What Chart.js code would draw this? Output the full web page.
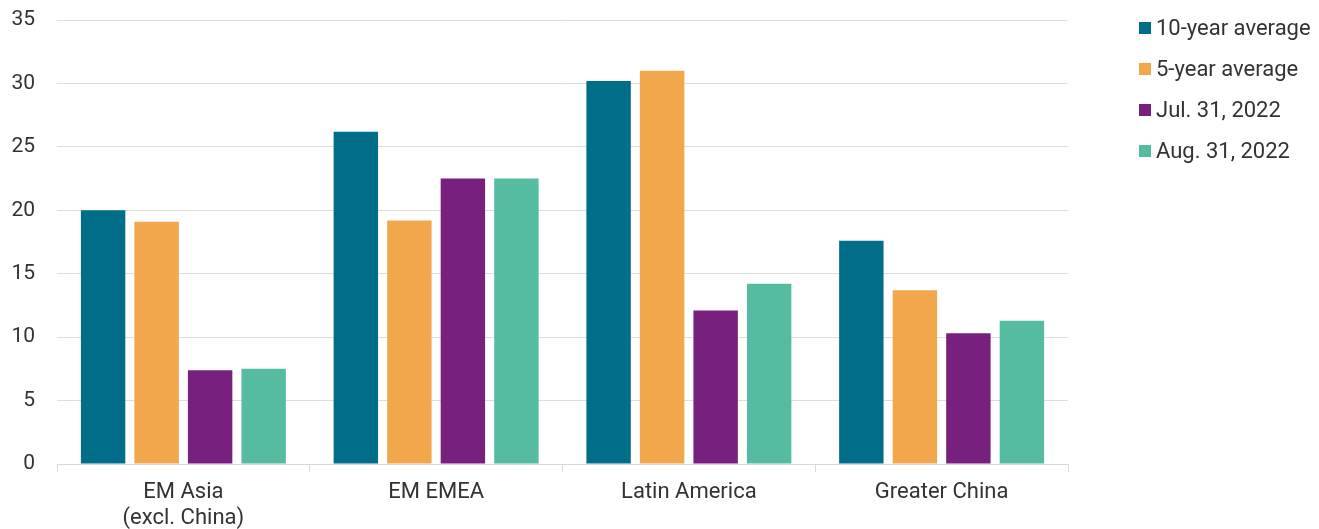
<!DOCTYPE html>
<html>
<head>
<meta charset="utf-8">
<script src="https://cdn.jsdelivr.net/npm/chart.js@4.4.1/dist/chart.umd.min.js"></script>
<style>
  html, body { margin: 0; padding: 0; background: #fff; }
  #wrap { position: relative; width: 1319px; height: 529px; }
  #legend { position: absolute; left: 1139px; top: 7px; font-family: Roboto, sans-serif; font-size: 22px; color: #333; }
  #legend div { height: 41px; display: flex; align-items: center; white-space: nowrap; }
  #legend span { display: inline-block; width: 12px; height: 12px; margin-right: 5px; }
</style>
</head>
<body>
<div id="wrap">
  <canvas id="myChart" width="1319" height="529"></canvas>
  <div id="legend"></div>
</div>
<script>
const categories = [['EM Asia', '(excl. China)'], 'EM EMEA', 'Latin America', 'Greater China'];
const seriesNames = ['10-year average', '5-year average', 'Jul. 31, 2022', 'Aug. 31, 2022'];
const tenYear = [20.0, 26.2, 30.2, 17.6];
const fiveYear = [19.1, 19.2, 31.0, 13.7];
const jul2022 = [7.4, 22.5, 12.1, 10.3];
const aug2022 = [7.5, 22.5, 14.2, 11.3];
const colors = ['#006D89', '#F2A74C', '#78207D', '#55BCA2'];

window.onload = () => {
    const values = [tenYear, fiveYear, jul2022, aug2022];
    const ctx = document.getElementById('myChart').getContext('2d');
    const myChart = new Chart(ctx, {
        type: 'bar',
        data: {
            labels: categories,
            datasets: seriesNames.map((name, i) => ({
                label: name,
                data: values[i],
                backgroundColor: colors[i],
                categoryPercentage: 0.847,
                barPercentage: 0.83
            }))
        },
        options: {
            responsive: false,
            animation: false,
            layout: { padding: { left: 0, right: 251, top: 20, bottom: 0 } },
            plugins: { legend: { display: false }, tooltip: { enabled: false } },
            scales: {
                y: {
                    min: 0,
                    max: 35,
                    afterFit: (scale) => { scale.width = 57; scale.paddingTop = 0; scale.paddingBottom = 0; },
                    ticks: { stepSize: 5, padding: 22, color: '#333', font: { family: 'Roboto', size: 21 } },
                    grid: { color: '#dddddd', drawTicks: false },
                    border: { display: false }
                },
                x: {
                    afterFit: (scale) => { scale.height = 65; },
                    ticks: { padding: 8, color: '#333', font: { family: 'Roboto', size: 22, lineHeight: 1.18 } },
                    grid: { offset: true, drawOnChartArea: false, tickLength: 8, color: '#d9d9d9' },
                    border: { color: '#d9d9d9' }
                }
            }
        }
    });

    const legend = document.getElementById('legend');
    seriesNames.forEach((name, i) => {
        const row = document.createElement('div');
        row.innerHTML = '<span style="background:' + colors[i] + '"></span>' + name;
        legend.appendChild(row);
    });
}
</script>
</body>
</html>
